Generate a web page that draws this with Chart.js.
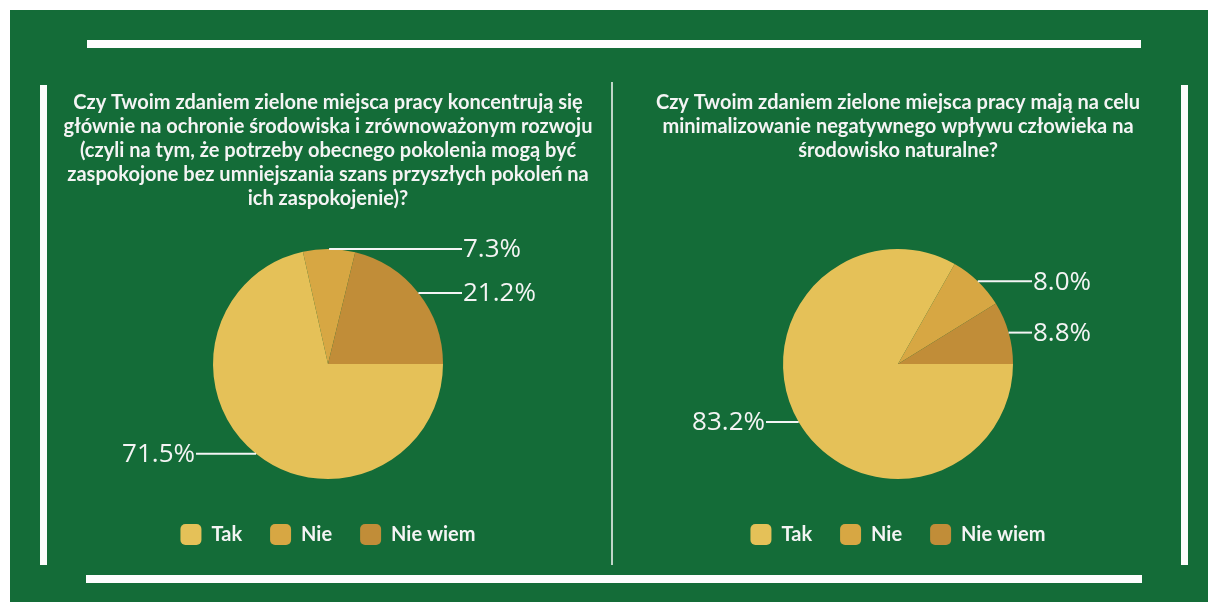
<!DOCTYPE html>
<html>
<head>
<meta charset="utf-8">
<script src="https://cdn.jsdelivr.net/npm/chart.js@4"></script>
<style>
  body { margin: 0; background: #ffffff; width: 1208px; height: 602px; overflow: hidden; position: relative; }
  #panel { position: absolute; left: 10px; top: 10px; width: 1198px; height: 592px; background: #146c38; }
  .bar { position: absolute; background: #fdfdfd; }
  #chart1 { position: absolute; left: 50px; top: 85px; }
  #chart2 { position: absolute; left: 618px; top: 85px; }
</style>
</head>
<body>
<div id="panel"></div>
<div class="bar" style="left:87px; top:40px; width:1054px; height:8px;"></div>
<div class="bar" style="left:86px; top:575px; width:1056px; height:8px;"></div>
<div class="bar" style="left:40px; top:85px; width:7px; height:480px;"></div>
<div class="bar" style="left:1181px; top:85px; width:7px; height:480px;"></div>
<div class="bar" style="left:611px; top:82px; width:2px; height:483px; background: rgba(235,240,236,0.8);"></div>
<canvas id="chart1" width="556" height="470"></canvas>
<canvas id="chart2" width="560" height="470"></canvas>

<script>
// kategorie odpowiedzi
const categories = ["Tak", "Nie", "Nie wiem"];

// wartości w procentach
const focusValues = [71.5, 7.3, 21.2];
const impactValues = [83.2, 8.0, 8.8];

// pytania (tytuły wykresów)
const focusTitle = [
    "Czy Twoim zdaniem zielone miejsca pracy koncentrują się",
    "głównie na ochronie środowiska i zrównoważonym rozwoju",
    "(czyli na tym, że potrzeby obecnego pokolenia mogą być",
    "zaspokojone bez umniejszania szans przyszłych pokoleń na",
    "ich zaspokojenie)?"
];
const impactTitle = [
    "Czy Twoim zdaniem zielone miejsca pracy mają na celu",
    "minimalizowanie negatywnego wpływu człowieka na",
    "środowisko naturalne?"
];

const sliceColors = ["#e5c158", "#d7a743", "#c18d38"];
const textColor = "#f4f4f4";

/**
 * Etykiety procentowe z poziomą linią od krawędzi wycinka
 */
const outLabels = {
    id: "outLabels",
    afterDatasetsDraw(chart) {
        let ctx = chart.ctx;
        let meta = chart.getDatasetMeta(0);
        let values = chart.data.datasets[0].data;
        ctx.save();
        ctx.strokeStyle = textColor;
        ctx.fillStyle = textColor;
        ctx.lineWidth = 2;
        ctx.font = '26px "Open Sans"';
        ctx.textBaseline = "middle";
        meta.data.forEach((arc, i) => {
            let p = arc.getProps(["x", "y", "startAngle", "endAngle", "outerRadius"]);
            let mid = (p.startAngle + p.endAngle) / 2;
            let px = p.x + Math.cos(mid) * p.outerRadius;
            let py = p.y + Math.sin(mid) * p.outerRadius;
            let right = Math.cos(mid) >= 0;
            let endX = right ? p.x + p.outerRadius + 19 : p.x - p.outerRadius - 17;
            ctx.beginPath();
            ctx.moveTo(px, py);
            ctx.lineTo(endX, py);
            ctx.stroke();
            ctx.textAlign = right ? "left" : "right";
            ctx.fillText(values[i].toFixed(1) + "%", right ? endX + 1 : endX - 1, py + 1);
        });
        ctx.restore();
    }
};

function createPie(canvasId, values, titleLines, titleGap) {
    let ctx = document.getElementById(canvasId).getContext("2d");
    return new Chart(ctx, {
        type: "pie",
        data: {
            labels: categories,
            datasets: [{
                data: values,
                backgroundColor: sliceColors,
                borderWidth: 0,
                hoverOffset: 0,
                radius: 115
            }]
        },
        options: {
            responsive: false,
            animation: false,
            rotation: 90,
            plugins: {
                tooltip: { enabled: false },
                title: {
                    display: true,
                    text: titleLines,
                    color: textColor,
                    font: { family: "Lato", weight: "bold", size: 20, lineHeight: "24px" },
                    padding: { top: 6, bottom: titleGap }
                },
                legend: {
                    position: "bottom",
                    labels: {
                        color: textColor,
                        font: { family: "Lato", weight: "bold", size: 20 },
                        boxWidth: 21,
                        boxHeight: 21,
                        padding: 28,
                        generateLabels: chart =>
                            Chart.overrides.pie.plugins.legend.labels.generateLabels(chart)
                                .map(item => Object.assign(item, { borderRadius: 5 }))
                    }
                }
            }
        },
        plugins: [outLabels]
    });
}

Promise.all([
    document.fonts.load('bold 20px "Lato"'),
    document.fonts.load('26px "Open Sans"')
]).catch(() => {}).then(() => {
    createPie("chart1", focusValues, focusTitle, 21);
    createPie("chart2", impactValues, impactTitle, 69);
});
</script>
</body>
</html>
